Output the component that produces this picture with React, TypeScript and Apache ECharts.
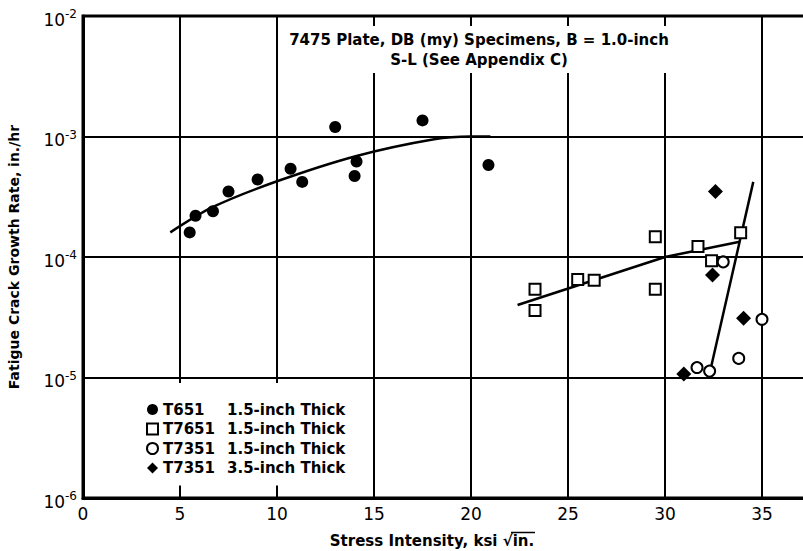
import React, { useEffect, useRef } from 'react';
import * as echarts from 'echarts';

// T651 1.5-inch Thick (filled circles)
const t651X = [5.5, 5.8, 6.7, 7.5, 9.0, 10.7, 11.3, 13.0, 14.1, 14.0, 17.5, 20.9];
const t651Y = [1.6e-4, 2.2e-4, 2.4e-4, 3.5e-4, 4.4e-4, 5.4e-4, 4.2e-4, 1.2e-3, 6.2e-4, 4.7e-4, 1.36e-3, 5.8e-4];

// T7651 1.5-inch Thick (open squares)
const t7651X = [23.3, 23.3, 25.5, 26.35, 29.5, 29.5, 31.7, 32.4, 33.9];
const t7651Y = [5.4e-5, 3.6e-5, 6.5e-5, 6.4e-5, 1.47e-4, 5.4e-5, 1.22e-4, 9.3e-5, 1.59e-4];

// T7351 1.5-inch Thick (open circles)
const t7351aX = [31.65, 32.3, 33.0, 33.8, 35.0];
const t7351aY = [1.21e-5, 1.13e-5, 9.1e-5, 1.44e-5, 3.04e-5];

// T7351 3.5-inch Thick (filled diamonds)
const t7351bX = [32.6, 32.45, 34.05, 30.97];
const t7351bY = [3.5e-4, 7.1e-5, 3.1e-5, 1.07e-5];

// Fitted curves
const fitT651X = [4.5, 6.7, 10.0, 14.1, 18.1, 20.0, 21.0];
const fitT651Y = [1.6e-4, 2.6e-4, 4.25e-4, 6.9e-4, 9.5e-4, 1.0e-3, 1.0e-3];
const fitT7651X = [22.4, 30.0, 33.85];
const fitT7651Y = [4.0e-5, 1.0e-4, 1.34e-4];
const fitT7351X = [32.35, 34.55];
const fitT7351Y = [1.17e-5, 4.2e-4];

const xTicks = [0, 5, 10, 15, 20, 25, 30, 35];
const yExponents = [-6, -5, -4, -3, -2];

const seriesNames = [
  'T651 1.5-inch Thick',
  'T7651 1.5-inch Thick',
  'T7351 1.5-inch Thick',
  'T7351 3.5-inch Thick',
];

const zip = (xs: number[], ys: number[]) => xs.map((x, i) => [x, ys[i]]);

const FONT = 'DejaVu Sans';

export default function App() {
  const ref = useRef<HTMLDivElement>(null);
  useEffect(() => {
    document.body.style.margin = '0';
    const chart = echarts.init(ref.current!, null, { renderer: 'svg' });
    const openStyle = { color: '#fff', borderColor: '#000', borderWidth: 2, opacity: 1 };
    const filledStyle = { color: '#000', opacity: 1 };
    chart.setOption({
      animation: false,
      backgroundColor: '#fff',
      textStyle: { fontFamily: FONT, color: '#000' },
      title: {
        text: '7475 Plate, DB (my) Specimens, B = 1.0-inch\nS-L (See Appendix C)',
        left: 471,
        top: 26,
        textAlign: 'center',
        backgroundColor: '#fff',
        padding: [4, 8, 3, 8],
        textStyle: { fontFamily: FONT, fontWeight: 'bold', fontSize: 15, lineHeight: 20, color: '#000' },
      },
      grid: {
        left: 83,
        top: 16,
        width: 776,
        height: 482,
        outerBoundsMode: 'none',
        containLabel: false,
        show: true,
        borderColor: '#000',
        borderWidth: 3,
      },
      legend: {
        data: seriesNames,
        orient: 'vertical',
        left: 88,
        top: 383,
        padding: [19, 16, 10, 58],
        backgroundColor: '#fff',
        itemGap: 4.5,
        itemWidth: 11,
        itemHeight: 11,
        formatter: (name: string) => {
          const parts = name.split(' ');
          return `{a|${parts[0]}}{b|${parts.slice(1).join(' ')}}`;
        },
        textStyle: {
          fontFamily: FONT,
          fontWeight: 'bold',
          fontSize: 15,
          color: '#000',
          rich: {
            a: { width: 64, fontFamily: FONT, fontWeight: 'bold', fontSize: 15 },
            b: { fontFamily: FONT, fontWeight: 'bold', fontSize: 15 },
          },
        },
      },
      xAxis: {
        type: 'value',
        min: 0,
        max: 40,
        interval: 5,
        name: 'Stress Intensity, ksi √in.',
        nameLocation: 'middle',
        nameGap: 35,
        nameTextStyle: { fontFamily: FONT, fontWeight: 'bold', fontSize: 15, color: '#000', padding: [0, 78, 0, 0] },
        axisLine: { show: true, lineStyle: { color: '#000', width: 3 } },
        axisTick: { show: true, inside: true, length: 12, lineStyle: { color: '#000', width: 2 } },
        splitLine: { show: true, lineStyle: { color: '#000', width: 2 } },
        axisLabel: {
          showMaxLabel: false,
          fontFamily: 'DejaVu Sans',
          fontSize: 17,
          color: '#000',
          margin: 7,
          formatter: (v: number) => (xTicks.includes(v) ? String(v) : ''),
        },
      },
      yAxis: {
        type: 'log',
        logBase: 10,
        min: 1e-6,
        max: 1e-2,
        name: 'Fatigue Crack Growth Rate, in./hr',
        nameLocation: 'middle',
        nameGap: 62,
        nameTextStyle: { fontFamily: FONT, fontWeight: 'bold', fontSize: 14, color: '#000' },
        axisLine: { show: true, lineStyle: { color: '#000', width: 3 } },
        axisTick: { show: false },
        splitLine: { show: true, lineStyle: { color: '#000', width: 2 } },
        axisLabel: {
          margin: 6,
          formatter: (v: number) => {
            const e = Math.round(Math.log10(v));
            return yExponents.includes(e) ? `{b|10}{s|${e}}` : '';
          },
          rich: {
            b: { fontFamily: 'DejaVu Sans', fontSize: 17, color: '#000', lineHeight: 24, verticalAlign: 'bottom', padding: [12, 0, 0, 0] },
            s: { fontFamily: 'DejaVu Sans', fontSize: 12, color: '#000', lineHeight: 24, verticalAlign: 'top', padding: [4, 0, 0, 0] },
          },
        },
      },
      graphic: [
        {
          type: 'line',
          z: 100,
          shape: { x1: 511, y1: 532.5, x2: 535, y2: 532.5 },
          style: { stroke: '#000', lineWidth: 1.5 },
        },
      ],
      series: [
        {
          name: seriesNames[0],
          type: 'scatter',
          symbol: 'circle',
          symbolSize: 12,
          itemStyle: filledStyle,
          data: zip(t651X, t651Y),
          z: 4,
        },
        {
          name: seriesNames[1],
          type: 'scatter',
          symbol: 'rect',
          symbolSize: 11,
          itemStyle: openStyle,
          data: zip(t7651X, t7651Y),
          z: 4,
        },
        {
          name: seriesNames[2],
          type: 'scatter',
          symbol: 'circle',
          symbolSize: 11,
          itemStyle: openStyle,
          data: zip(t7351aX, t7351aY),
          z: 4,
        },
        {
          name: seriesNames[3],
          type: 'scatter',
          symbol: 'diamond',
          symbolSize: 15,
          itemStyle: filledStyle,
          data: zip(t7351bX, t7351bY),
          z: 4,
        },
        {
          name: 'T651 fit',
          type: 'line',
          smooth: 0.3,
          symbol: 'none',
          lineStyle: { color: '#000', width: 2.5 },
          data: zip(fitT651X, fitT651Y),
          z: 3,
        },
        {
          name: 'T7651 fit',
          type: 'line',
          symbol: 'none',
          lineStyle: { color: '#000', width: 2.5 },
          data: zip(fitT7651X, fitT7651Y),
          z: 3,
        },
        {
          name: 'T7351 fit',
          type: 'line',
          symbol: 'none',
          lineStyle: { color: '#000', width: 2.5 },
          data: zip(fitT7351X, fitT7351Y),
          z: 3,
        },
      ],
    });
    return () => chart.dispose();
  }, []);
  return <div ref={ref} style={{ width: 803, height: 551 }} />;
}
